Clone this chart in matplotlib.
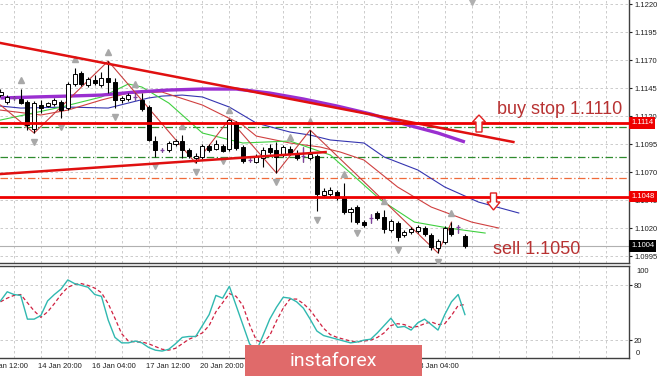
import numpy as np
import matplotlib
matplotlib.use("Agg")
import matplotlib.pyplot as plt
from matplotlib.patches import Polygon, Rectangle
from matplotlib.transforms import IdentityTransform, blended_transform_factory

plt.rcParams['font.family'] = ['Liberation Sans', 'DejaVu Sans']

# H4 candles
opens = [1.11387, 1.11325, 1.11361, 1.11352, 1.11325, 1.11084, 1.11298, 1.11289, 1.11307, 1.11325,
         1.11271, 1.11486, 1.11584, 1.11477, 1.11521, 1.11477, 1.11539, 1.11503, 1.11343, 1.11352,
         1.11370, 1.11343, 1.11280, 1.10977, 1.10896, 1.10896, 1.10950, 1.10977, 1.10896, 1.10825,
         1.10834, 1.10932, 1.10905, 1.10932, 1.10905, 1.11137, 1.10923, 1.10807, 1.10789, 1.10825,
         1.10914, 1.10896, 1.10852, 1.10905, 1.10869, 1.10843, 1.10825, 1.10843, 1.10494, 1.10503,
         1.10521, 1.10477, 1.10343, 1.10387, 1.10253, 1.10289, 1.10334, 1.10298, 1.10182, 1.10244,
         1.10137, 1.10164, 1.10173, 1.10200, 1.10137, 1.10021, 1.10075, 1.10200, 1.10209, 1.10128]
highs = [1.11441, 1.11387, 1.11378, 1.11441, 1.11343, 1.11334, 1.11343, 1.11325, 1.11361, 1.11343,
         1.11503, 1.11628, 1.11602, 1.11548, 1.11566, 1.11593, 1.11691, 1.11539, 1.11378, 1.11405,
         1.11405, 1.11405, 1.11298, 1.11021, 1.10914, 1.10977, 1.10994, 1.11030, 1.10914, 1.10869,
         1.10950, 1.10950, 1.10986, 1.10950, 1.11173, 1.11155, 1.10941, 1.10825, 1.10861, 1.10923,
         1.10950, 1.10968, 1.10941, 1.10932, 1.10896, 1.10923, 1.11075, 1.10861, 1.10557, 1.10566,
         1.10539, 1.10602, 1.10387, 1.10405, 1.10271, 1.10325, 1.10352, 1.10361, 1.10280, 1.10262,
         1.10182, 1.10209, 1.10226, 1.10218, 1.10155, 1.10101, 1.10218, 1.10253, 1.10226, 1.10146]
lows = [1.11370, 1.11307, 1.11343, 1.11307, 1.11075, 1.11048, 1.11227, 1.11280, 1.11289, 1.11182,
        1.11253, 1.11468, 1.11468, 1.11459, 1.11477, 1.11459, 1.11405, 1.11271, 1.11316, 1.11334,
        1.11343, 1.11244, 1.10977, 1.10834, 1.10878, 1.10878, 1.10932, 1.10825, 1.10825, 1.10780,
        1.10816, 1.10878, 1.10896, 1.10878, 1.10887, 1.10896, 1.10780, 1.10789, 1.10780, 1.10744,
        1.10861, 1.10691, 1.10834, 1.10852, 1.10807, 1.10789, 1.10807, 1.10352, 1.10477, 1.10485,
        1.10450, 1.10325, 1.10253, 1.10235, 1.10209, 1.10244, 1.10271, 1.10155, 1.10164, 1.10084,
        1.10119, 1.10146, 1.10155, 1.10128, 1.10003, 1.09977, 1.10057, 1.10128, 1.10155, 1.10021]
closes = [1.11414, 1.11370, 1.11356, 1.11316, 1.11119, 1.11316, 1.11271, 1.11316, 1.11343, 1.11253,
          1.11486, 1.11575, 1.11486, 1.11530, 1.11495, 1.11539, 1.11503, 1.11343, 1.11361, 1.11387,
          1.11370, 1.11262, 1.10986, 1.10896, 1.10892, 1.10959, 1.10977, 1.10896, 1.10843, 1.10843,
          1.10932, 1.10896, 1.10950, 1.10887, 1.11164, 1.10914, 1.10798, 1.10803, 1.10843, 1.10896,
          1.10878, 1.10834, 1.10923, 1.10869, 1.10825, 1.10843, 1.10861, 1.10503, 1.10530, 1.10539,
          1.10468, 1.10343, 1.10369, 1.10253, 1.10226, 1.10289, 1.10289, 1.10191, 1.10262, 1.10119,
          1.10164, 1.10191, 1.10209, 1.10146, 1.10030, 1.10084, 1.10200, 1.10146, 1.10209, 1.10040]

# moving averages (bar index, price)
ma_slow_idx = [0, 5, 10, 15, 20, 25, 30, 35, 40, 45, 50, 55, 60, 65, 69]
ma_slow = [1.11361, 1.11370, 1.11378, 1.11387, 1.11414, 1.11432, 1.11441, 1.11441, 1.11405,
           1.11352, 1.11289, 1.11218, 1.11128, 1.11048, 1.10968]
jaw_idx = [0, 3, 10, 16, 19, 22, 24, 27, 30, 34, 38, 43, 46, 49, 54, 57, 62, 66, 71, 77]
jaw = [1.11289, 1.11271, 1.11280, 1.11271, 1.11316, 1.11361, 1.11378, 1.11387, 1.11370, 1.11280,
       1.11137, 1.11057, 1.11030, 1.10986, 1.10959, 1.10834, 1.10718, 1.10566, 1.10432, 1.10334]
teeth_idx = [0, 6, 10, 15, 19, 24, 30, 36, 38, 43, 47.5, 50.5, 54, 59, 64, 70, 74]
teeth = [1.11253, 1.11209, 1.11253, 1.11343, 1.11405, 1.11414, 1.11298, 1.11119, 1.11021, 1.10959,
         1.10923, 1.10878, 1.10807, 1.10566, 1.10387, 1.10253, 1.10200]
lips_idx = [0, 9, 15, 19, 21, 25, 30, 36, 43, 49, 56.5, 61.5, 66.5, 72]
lips = [1.11164, 1.11280, 1.11370, 1.11486, 1.11459, 1.11316, 1.11048, 1.10959, 1.10977, 1.10852,
        1.10450, 1.10253, 1.10200, 1.10155]

zz_idx = [0, 5, 16, 29, 34, 41, 46, 65, 67]
zz = [1.11298, 1.11048, 1.11691, 1.10780, 1.11173, 1.10691, 1.11075, 1.09977, 1.10253]

fr_up = [3, 11, 16, 20, 27, 34, 43, 46, 51, 57, 67]
fr_dn = [5, 9, 17, 23, 29, 33, 41, 47, 53, 59, 65]

# trend lines and levels
down_line = ([0, 76.2], [1.11852, 1.10968])
up_line = ([0, 48.3], [1.10682, 1.10878])
lvl_buy = 1.1114
lvl_sell = 1.1048
lvl_green1 = 1.11102
lvl_green2 = 1.10834
lvl_orange = 1.10646
last_price = 1.1004

price_ticks = [1.1220, 1.1195, 1.1170, 1.1145, 1.1120, 1.1095, 1.1070, 1.1045, 1.1020, 1.0995]

# stochastic
stoch_k = [63, 73, 70, 69, 43, 43, 47, 63, 70, 76, 86, 82, 80, 78, 70, 68, 42, 23, 17, 17,
           19, 17, 12, 9, 8, 10, 16, 23, 24, 24, 36, 48, 69, 66, 79, 58, 37, 16, 8, 25,
           43, 56, 67, 66, 62, 55, 43, 30, 25, 23, 21, 19, 17, 18, 20, 21, 28, 36, 44, 34,
           35, 31, 39, 43, 37, 31, 48, 62, 70, 48]
stoch_d = [62, 66, 69, 70, 61, 52, 45, 51, 60, 70, 78, 81, 82, 80, 77, 72, 60, 44, 27, 19,
           18, 18, 16, 13, 10, 9, 11, 16, 21, 24, 28, 36, 51, 61, 71, 68, 58, 37, 20, 17,
           25, 41, 55, 65, 65, 60, 53, 43, 33, 26, 23, 21, 19, 18, 19, 20, 23, 28, 36, 38,
           37, 34, 35, 38, 40, 37, 38, 47, 58, 59]

time_idx = [-2, 6, 14, 22, 30, 62]
time_labels = ['13 Jan 12:00', '14 Jan 20:00', '16 Jan 04:00', '17 Jan 12:00',
               '20 Jan 20:00', '23 Jan 04:00']

W, H = 665, 376
fig = plt.figure(figsize=(W / 100, H / 100), dpi=100)
ax = fig.add_axes([0, 1 - 262.5 / H, 628.5 / W, 262.5 / H])
ax2 = fig.add_axes([0, 18 / H, 628.5 / W, 92.5 / H])

xmin, xmax = -0.074, 93.3
grid_kw = dict(color='#c4c4c4', lw=0.6, ls=(0, (3, 3)), zorder=0)
for a in (ax, ax2):
    a.set_xlim(xmin, xmax)
    for gx in range(2, 94, 4):
        a.axvline(gx, **grid_kw)
    a.set_xticks([])
    a.spines['left'].set_visible(False)
    for s in ('right', 'bottom', 'top'):
        a.spines[s].set_color('#404040')
        a.spines[s].set_linewidth(1)
ax.spines['top'].set_visible(False)

ax.set_ylim(1.09892, 1.12236)
ax.yaxis.tick_right()
ax.set_yticks(price_ticks)
ax.set_yticklabels(['%.4f' % p for p in price_ticks])
ax.tick_params(axis='y', labelsize=5.5, length=2.5, pad=1.5, colors='#202020')
for p in price_ticks:
    ax.axhline(p, **grid_kw)

# levels
ax.axhline(last_price, color='#b0b0b0', lw=0.8, zorder=1)
ax.axhline(lvl_green1, color='#2e8b2e', lw=0.9, ls=(0, (6, 2, 1, 2)), zorder=1)
ax.axhline(lvl_green2, color='#2e8b2e', lw=0.9, ls=(0, (6, 2, 1, 2)), zorder=1)
ax.axhline(lvl_orange, color='#f06a3a', lw=0.9, ls=(0, (6, 2, 1, 2)), zorder=1)

# alligator + slow MA
ax.plot(jaw_idx, jaw, color='#3535b0', lw=0.8, zorder=2)
ax.plot(teeth_idx, teeth, color='#d04040', lw=0.8, zorder=2)
ax.plot(lips_idx, lips, color='#40d040', lw=0.8, zorder=2)
ax.plot(ma_slow_idx, ma_slow, color='#9a2fd0', lw=2.4, zorder=3, solid_capstyle='butt')
ax.plot(zz_idx, zz, color='#c84040', lw=0.8, zorder=3)

# candles
idx = np.arange(len(opens))
o = np.array(opens); c = np.array(closes); h = np.array(highs); l = np.array(lows)
ax.vlines(idx, l, h, color='black', lw=0.8, zorder=4)
doji = np.abs(c - o) < 0.00006
body_lo = np.minimum(o, c)
body_h = np.abs(c - o)
cols = np.where(c > o, 'white', 'black')
ax.bar(idx[~doji], body_h[~doji], bottom=body_lo[~doji], width=0.6,
       color=cols[~doji], edgecolor='black', lw=0.7, zorder=5)
ax.vlines(idx[doji], l[doji], h[doji], color='#8040a0', lw=0.9, zorder=5)
ax.hlines(o[doji], idx[doji] - 0.3, idx[doji] + 0.3, color='#8040a0', lw=0.9, zorder=5)

# fractals
ax.plot(fr_up, h[fr_up] + 0.0008, ls='none', marker='^', ms=4.5, color='#a8a8a8', zorder=6)
ax.plot(fr_dn, l[fr_dn] - 0.0008, ls='none', marker='v', ms=4.5, color='#a8a8a8', zorder=6)

# trend lines and key levels
ax.plot(*down_line, color='#e01010', lw=1.8, zorder=6)
ax.plot(*up_line, color='#e01010', lw=1.8, zorder=6)
ax.axhline(lvl_buy, color='#ee0000', lw=2.0, zorder=6)
ax.axhline(lvl_sell, color='#ee0000', lw=2.0, zorder=6)

ax.plot([70], [1.1222], marker='v', ms=5, color='#b0b0b0', clip_on=False, zorder=7)

# right price tags
tr = blended_transform_factory(ax.transAxes, ax.transData)
for val, txt, bg in [(lvl_buy, '1.1114', '#ee0000'), (lvl_sell, '1.1048', '#ee0000'),
                     (last_price, '1.1004', 'black')]:
    ax.text(1.004, val, txt, transform=tr, fontsize=5.5, color='white', va='center', ha='left',
            bbox=dict(boxstyle='square,pad=0.3', fc=bg, ec='none'), clip_on=False, zorder=10)

# stochastic panel
ax2.set_ylim(0.4, 101.8)
ax2.plot(idx, stoch_d, color='#d02040', lw=0.9, ls=(0, (3, 2)), zorder=3)
ax2.plot(idx, stoch_k, color='#30b8b0', lw=1.0, zorder=4)
ax2.axhline(80, **grid_kw)
ax2.axhline(20, **grid_kw)
ax2.yaxis.tick_right()
ax2.set_yticks([80, 20])
ax2.set_yticklabels(['80', '20'])
ax2.tick_params(axis='y', labelsize=5.5, length=2.5, pad=1.5, colors='#202020')
tr2 = blended_transform_factory(ax2.transAxes, ax2.transData)
ax2.text(1.012, 99, '100', transform=tr2, fontsize=5.5, va='top', ha='left', color='#202020')
ax2.text(1.012, 1.5, '0', transform=tr2, fontsize=5.5, va='bottom', ha='left', color='#202020')

trx = blended_transform_factory(ax2.transData, ax2.transAxes)
for ti, lab in zip(time_idx, time_labels):
    ax2.text(ti - 0.4, -0.09, lab, transform=trx, fontsize=5.5, va='center', ha='left',
             color='#202020', clip_on=False)

# annotations (figure pixels, y from top)
def px(x, y):
    return (x, H - y)

up_arrow = [px(479, 115), px(485.5, 122), px(482, 122), px(482, 132), px(476, 132),
            px(476, 122), px(472.5, 122)]
dn_arrow = [px(490.5, 193), px(496.5, 193), px(496.5, 202), px(500, 202), px(493.5, 210),
            px(487, 202), px(490.5, 202)]
for pts in (up_arrow, dn_arrow):
    fig.patches.append(Polygon(pts, closed=True, fc='white', ec='#e02020', lw=1.0,
                               transform=IdentityTransform(), zorder=20))

fig.text(497 / W, 1 - 109 / H, 'buy stop 1.1110', fontsize=13, color='#b83232',
         ha='left', va='center', zorder=21)
fig.text(493 / W, 1 - 249 / H, 'sell 1.1050', fontsize=13, color='#b83232',
         ha='left', va='center', zorder=21)

fig.patches.append(Rectangle((245, 0), 177, 31, fc='#e06a6a', ec='none',
                             transform=IdentityTransform(), zorder=30))
fig.text(333 / W, 15 / H, 'instaforex', fontsize=14, color='white', family='Roboto',
         ha='center', va='center', zorder=31)

fig.savefig('out.png', dpi=100)
